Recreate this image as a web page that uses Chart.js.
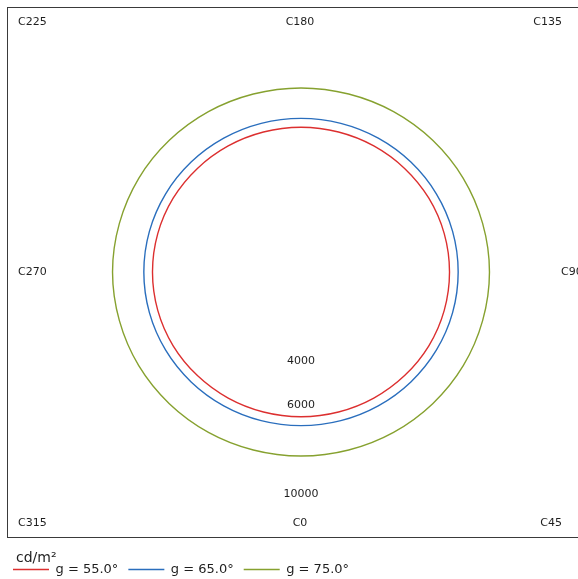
<!DOCTYPE html>
<html>
<head>
<meta charset="utf-8">
<script src="https://cdn.jsdelivr.net/npm/chart.js@4/dist/chart.umd.min.js"></script>
<style>
html,body{margin:0;padding:0;overflow:hidden;background:#fff;width:578px;height:579px}
canvas{display:block;margin-top:-8px}
</style>
</head>
<body>
<canvas id="c" width="602" height="594"></canvas>
<script>
// C-planes (degrees)
const cPlanes = [0,15,30,45,60,75,90,105,120,135,150,165,180,195,210,225,240,255,270,285,300,315,330,345];
const seriesNames = ['g = 55.0°', 'g = 65.0°', 'g = 75.0°'];
// luminance values (cd/m²) per C-plane
const lum55 = [6520,6530,6560,6600,6650,6680,6690,6680,6650,6600,6560,6530,6520,6530,6560,6600,6650,6680,6690,6680,6650,6600,6560,6530];
const lum65 = [6920,6930,6960,7000,7040,7070,7080,7070,7040,7000,6960,6930,6920,6930,6960,7000,7040,7070,7080,7070,7040,7000,6960,6930];
const lum75 = [8290,8300,8340,8390,8440,8470,8490,8470,8440,8390,8340,8300,8290,8300,8340,8390,8440,8470,8490,8470,8440,8390,8340,8300];
const radialTicks = [4000, 6000, 10000];
const frameLabels = ['C0','C45','C90','C135','C180','C225','C270','C315'];
const unitLabel = 'cd/m²';
const seriesColors = ['#dc2f2f', '#2a6ebd', '#86a12f'];

// radar goes clockwise from the start angle; C0 at bottom, C270 at left
const order = cPlanes.map((_, i) => (360 - 15 * i) % 360);
const pick = arr => order.map(c => arr[cPlanes.indexOf(c)]);
const allSeries = [lum55, lum65, lum75];

const FONT = '"DejaVu Sans", Verdana, sans-serif';
const Y0 = 8; // canvas is shifted up by 8px

const decor = {
  id: 'decor',
  beforeDatasetsDraw(chart) {
    const ctx = chart.ctx, r = chart.scales.r;
    ctx.save();
    ctx.strokeStyle = '#3a3a3a';
    ctx.lineWidth = 1;
    ctx.strokeRect(7.5, 7.5 + Y0, 2 * r.xCenter - 15, 530);
    ctx.restore();
  },
  afterDatasetsDraw(chart) {
    const ctx = chart.ctx, r = chart.scales.r;
    ctx.save();
    ctx.fillStyle = '#1e1e1e';
    ctx.font = '11px ' + FONT;
    ctx.textBaseline = 'middle';
    ctx.textAlign = 'center';
    radialTicks.forEach(v => {
      const p = r.getPointPositionForValue(0, v);
      ctx.fillText(String(v), p.x, p.y);
    });
    const pos = {
      C0:   [300, 523.5, 'center'],
      C45:  [562, 523.5, 'right'],
      C90:  [561, 272.5, 'left'],
      C135: [562, 22.5, 'right'],
      C180: [300, 22.5, 'center'],
      C225: [18, 22.5, 'left'],
      C270: [18, 272.5, 'left'],
      C315: [18, 523.5, 'left']
    };
    frameLabels.forEach(l => {
      const p = pos[l];
      ctx.textAlign = p[2];
      ctx.fillText(l, p[0], p[1] + Y0);
    });
    ctx.font = '14px ' + FONT;
    ctx.textAlign = 'left';
    ctx.textBaseline = 'alphabetic';
    ctx.fillText(unitLabel, 16, 562 + Y0);
    ctx.restore();
  }
};

new Chart(document.getElementById('c'), {
  type: 'radar',
  data: {
    labels: order.map(c => 'C' + c),
    datasets: allSeries.map((s, k) => ({
      label: seriesNames[k],
      data: pick(s),
      borderColor: seriesColors[k],
      backgroundColor: seriesColors[k],
      borderWidth: 1.4,
      fill: false,
      pointRadius: 0,
      pointHoverRadius: 0,
      tension: 0.34
    }))
  },
  options: {
    responsive: false,
    animation: false,
    devicePixelRatio: 1,
    layout: { padding: { left: 3, right: 3, top: 0, bottom: 0 } },
    scales: {
      r: {
        min: 0,
        max: 12613,
        startAngle: 180,
        ticks: { display: false },
        grid: { display: false },
        angleLines: { display: false },
        pointLabels: { display: false }
      }
    },
    plugins: {
      tooltip: { enabled: false },
      legend: {
        display: true,
        position: 'bottom',
        align: 'start',
        labels: {
          usePointStyle: true,
          pointStyle: 'line',
          pointStyleWidth: 36,
          padding: 10,
          color: '#1e1e1e',
          font: { family: FONT, size: 13 }
        }
      }
    }
  },
  plugins: [decor]
});
</script>
</body>
</html>
